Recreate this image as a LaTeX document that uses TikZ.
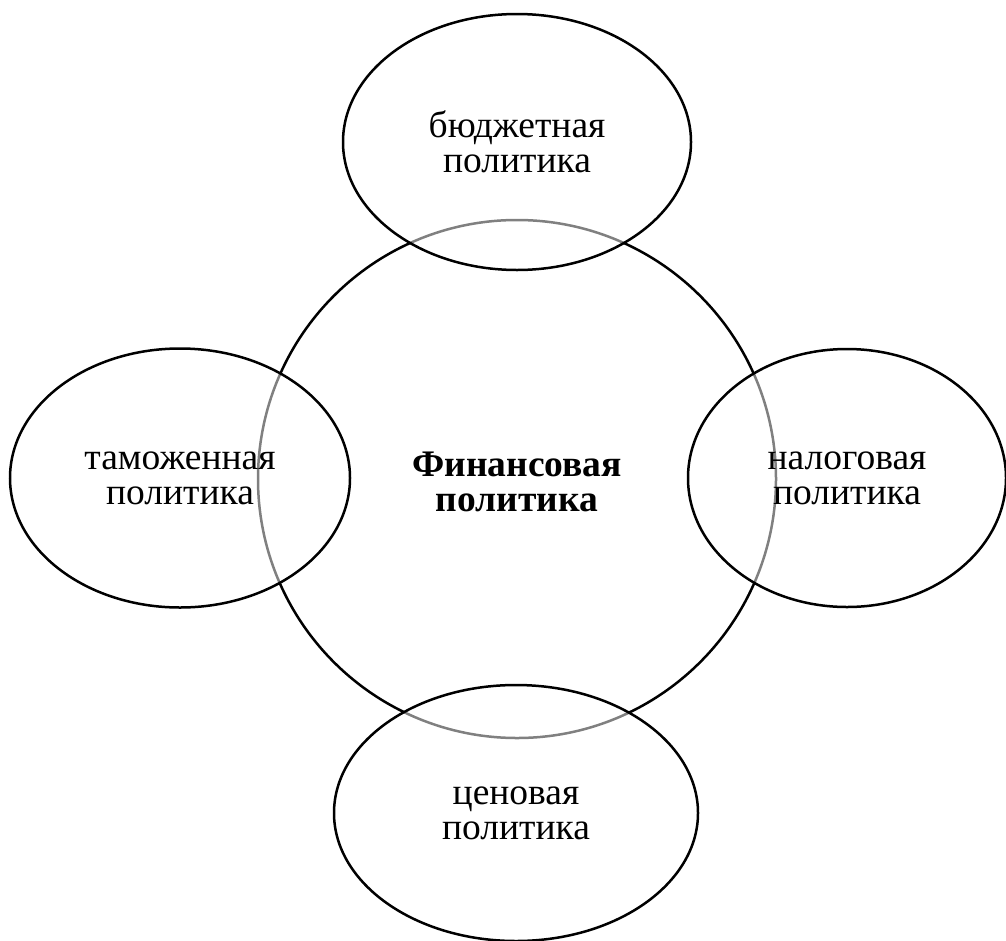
\documentclass[tikz,border=0pt]{standalone}
\usepackage{fontspec}
\setmainfont{Liberation Serif}
\usetikzlibrary{shapes.geometric}
\begin{document}
\begin{tikzpicture}[x=1pt,y=-1pt,
  txt/.style={align=center,font=\fontsize{37.5}{35}\selectfont},
  bigc/.style={circle,draw=black,line width=2.5pt,minimum size=518pt,inner sep=0pt},
  oval/.style={ellipse,draw=black,line width=2.5pt,fill=white,fill opacity=0.5,draw opacity=1,text opacity=1,inner sep=0pt,txt}]
\useasboundingbox (0,0) rectangle (1006,940);
\node[bigc] (c) at (517,479) {};
\node[txt,font=\fontsize{37.5}{35}\selectfont\bfseries] (ct) at (517,482) {Финансовая\\политика};
\node[oval,minimum width=348pt,minimum height=256pt] (top) at (517,142) {бюджетная\\политика};
\node[oval,minimum width=340pt,minimum height=259pt] (left) at (180,478) {таможенная\\политика};
\node[oval,minimum width=318pt,minimum height=258pt] (right) at (847,478) {налоговая\\политика};
\node[oval,minimum width=364pt,minimum height=256pt] (bot) at (516,813) {ценовая\\политика};
\end{tikzpicture}
\end{document}
